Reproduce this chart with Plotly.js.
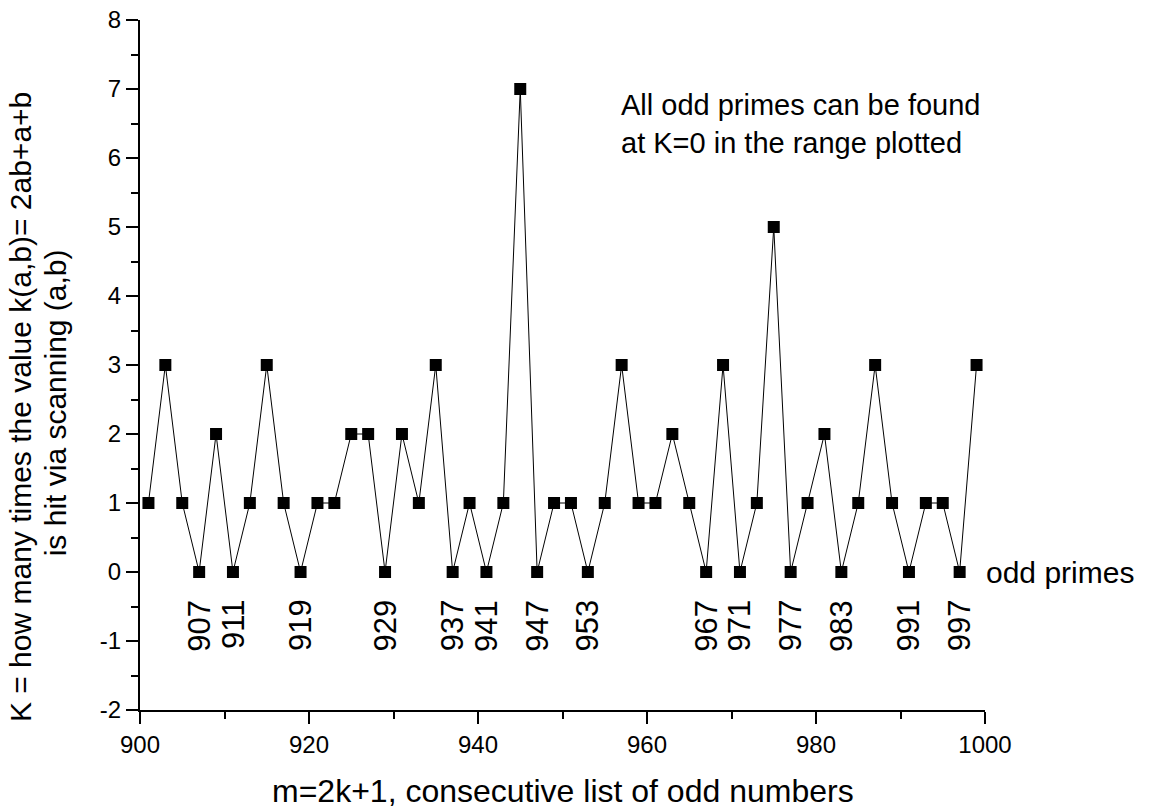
<!DOCTYPE html>
<html>
<head>
<meta charset="utf-8">
<script src="https://cdn.plot.ly/plotly-3.0.1.min.js"></script>
<style>
  html, body { margin: 0; padding: 0; background: #fff; }
  #chart { width: 1155px; height: 812px; }
</style>
</head>
<body>
<div id="chart"></div>
<script>
// Odd numbers m = 2k+1 from 901 to 999
const oddNumbers = [901, 903, 905, 907, 909, 911, 913, 915, 917, 919,
                    921, 923, 925, 927, 929, 931, 933, 935, 937, 939,
                    941, 943, 945, 947, 949, 951, 953, 955, 957, 959,
                    961, 963, 965, 967, 969, 971, 973, 975, 977, 979,
                    981, 983, 985, 987, 989, 991, 993, 995, 997, 999];
// K = how many times k(a,b)=2ab+a+b is hit
const kValues = [1, 3, 1, 0, 2, 0, 1, 3, 1, 0,
                 1, 1, 2, 2, 0, 2, 1, 3, 0, 1,
                 0, 1, 7, 0, 1, 1, 0, 1, 3, 1,
                 1, 2, 1, 0, 3, 0, 1, 5, 0, 1,
                 2, 0, 1, 3, 1, 0, 1, 1, 0, 3];
// Odd primes labelled under K=0
const primeLabels = [907, 911, 919, 929, 937, 941, 947, 953, 967, 971, 977, 983, 991, 997];
const xTicks = [900, 920, 940, 960, 980, 1000];
const yTicks = [-2, -1, 0, 1, 2, 3, 4, 5, 6, 7, 8];

const FONT = 'Liberation Sans, Arial, sans-serif';

const trace = {
  x: oddNumbers,
  y: kValues,
  type: 'scatter',
  mode: 'lines+markers',
  line: { color: '#000', width: 1 },
  marker: { symbol: 'square', size: 12, color: '#000' },
  cliponaxis: false,
  hoverinfo: 'x+y'
};

const annotations = primeLabels.map(p => ({
  x: p, y: -0.37, xref: 'x', yref: 'y',
  text: String(p), textangle: -90,
  showarrow: false, xanchor: 'center', yanchor: 'top',
  font: { family: FONT, size: 31, color: '#000' }
}));

annotations.push({
  x: 999.9, y: 0, xref: 'x', yref: 'y',
  text: 'odd primes', showarrow: false,
  xanchor: 'left', yanchor: 'middle',
  font: { family: FONT, size: 30, color: '#000' }
});

annotations.push({
  x: 956.7, y: 6.5, xref: 'x', yref: 'y',
  text: 'All odd primes can be found<br>at K=0 in the range plotted',
  showarrow: false, xanchor: 'left', yanchor: 'middle', align: 'left',
  font: { family: FONT, size: 29, color: '#000' }
});

// Axis titles (drawn as annotations for precise placement)
annotations.push({
  x: -0.142, y: 0.439, xref: 'paper', yref: 'paper',
  text: 'K = how many times the value k(a,b)= 2ab+a+b',
  textangle: -90, showarrow: false, xanchor: 'center', yanchor: 'middle',
  font: { family: FONT, size: 30, color: '#000' }
});
annotations.push({
  x: -0.099, y: 0.445, xref: 'paper', yref: 'paper',
  text: 'is hit via scanning (a,b)',
  textangle: -90, showarrow: false, xanchor: 'center', yanchor: 'middle',
  font: { family: FONT, size: 30, color: '#000' }
});
annotations.push({
  x: 0.5, y: -0.118, xref: 'paper', yref: 'paper',
  text: 'm=2k+1, consecutive list of odd numbers',
  showarrow: false, xanchor: 'center', yanchor: 'middle',
  font: { family: FONT, size: 32, color: '#000' }
});

const layout = {
  width: 1155, height: 812,
  margin: { l: 140, r: 170, t: 20, b: 102 },
  paper_bgcolor: '#fff', plot_bgcolor: '#fff',
  showlegend: false,
  font: { family: FONT, color: '#000' },
  xaxis: {
    range: [900, 1000], tickvals: xTicks, ticktext: xTicks.map(String),
    showgrid: false, zeroline: false,
    showline: true, linecolor: '#000', linewidth: 2,
    ticks: 'outside', ticklen: 12, tickwidth: 2, tickcolor: '#000',
    minor: { dtick: 10, tick0: 900, ticks: 'outside', ticklen: 7, tickwidth: 2, tickcolor: '#000', showgrid: false },
    tickfont: { family: FONT, size: 24, color: '#000' },
    fixedrange: true
  },
  yaxis: {
    range: [-2, 8], tickvals: yTicks, ticktext: yTicks.map(String),
    showgrid: false, zeroline: false,
    showline: true, linecolor: '#000', linewidth: 2,
    ticks: 'outside', ticklen: 12, tickwidth: 2, tickcolor: '#000',
    minor: { dtick: 0.5, tick0: 0, ticks: 'outside', ticklen: 7, tickwidth: 2, tickcolor: '#000', showgrid: false },
    tickfont: { family: FONT, size: 24, color: '#000' },
    fixedrange: true
  },
  annotations: annotations
};

Plotly.newPlot('chart', [trace], layout, { displayModeBar: false, staticPlot: false });
</script>
</body>
</html>
